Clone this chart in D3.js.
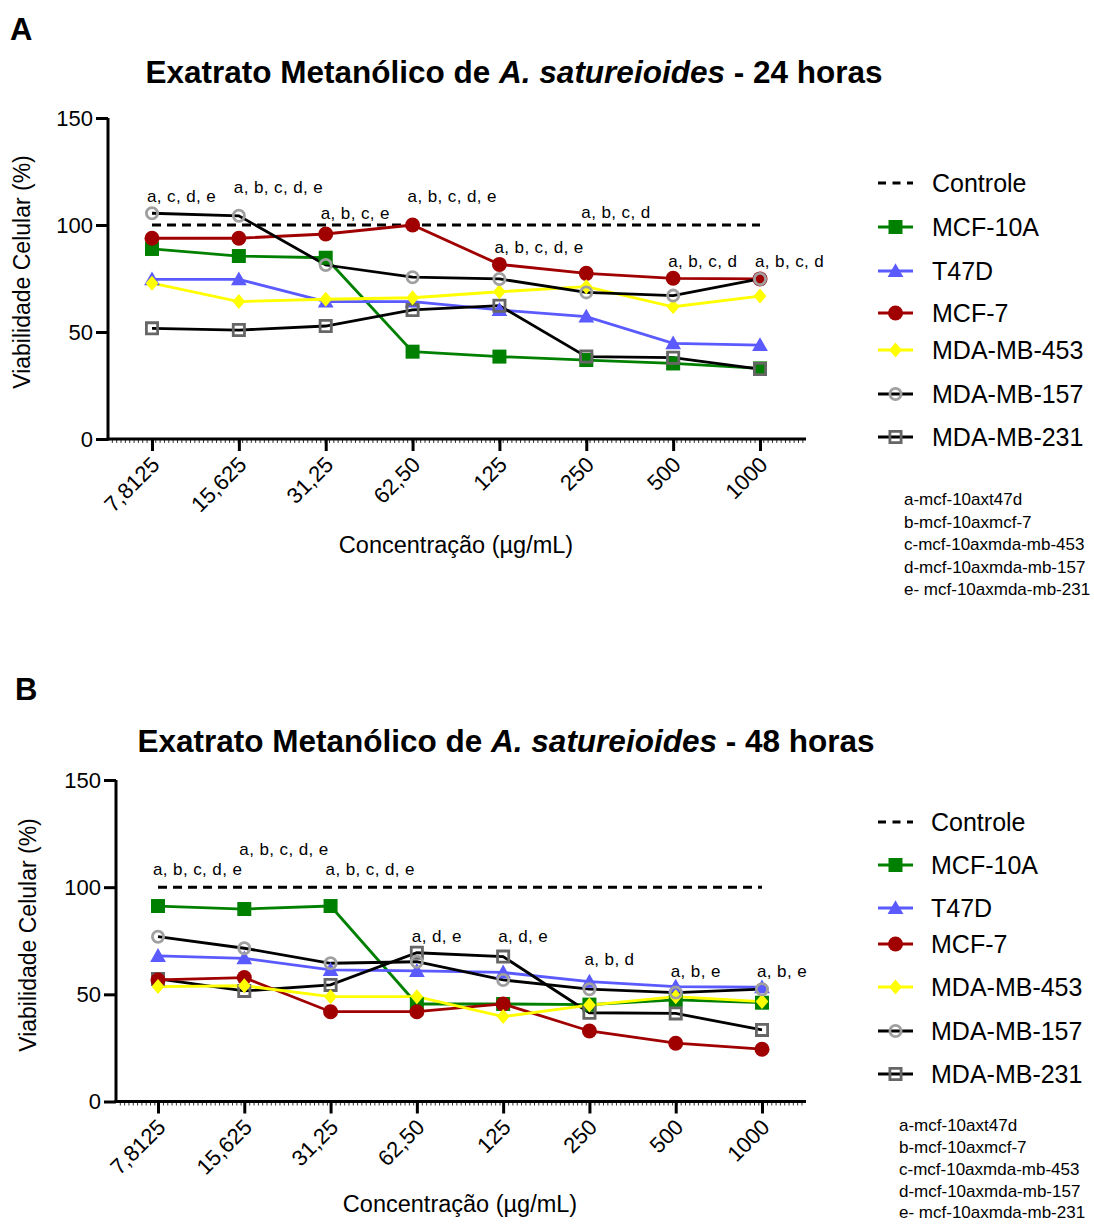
<!DOCTYPE html>
<html><head><meta charset="utf-8">
<script src="https://cdn.jsdelivr.net/npm/d3@7"></script>
<style>
body{margin:0;background:#fff}
svg{display:block}
text{font-family:"Liberation Sans",Arial,Helvetica,sans-serif;fill:#000}
</style>
</head><body>
<svg id="chart" width="1094" height="1224"></svg>
<script>
// ---------- DATA ----------
const concentrations = ["7,8125","15,625","31,25","62,50","125","250","500","1000"];
const yTicks = [0, 50, 100, 150];
const controlValue = 100;
const seriesNames = ["MCF-10A","T47D","MCF-7","MDA-MB-453","MDA-MB-157","MDA-MB-231"];

// 24 horas
const mcf10a_24 = [88.8, 85.5, 84.7, 40.8, 38.5, 36.9, 35.3, 33.0];
const t47d_24   = [74.6, 74.6, 64.2, 64.2, 60.3, 57.2, 44.7, 43.9];
const mcf7_24   = [93.8, 93.8, 95.8, 100.0, 81.6, 77.4, 75.1, 74.8];
const mda453_24 = [72.8, 64.2, 65.3, 66.0, 68.8, 71.2, 61.8, 66.8];
const mda157_24 = [105.5, 104.3, 81.3, 75.6, 74.8, 68.5, 67.0, 74.8];
const mda231_24 = [51.7, 50.9, 52.8, 60.3, 62.3, 38.5, 38.0, 32.7];
const annot_24 = ["a, c, d, e","a, b, c, d, e","a, b, c, e","a, b, c, d, e","a, b, c, d, e","a, b, c, d","a, b, c, d","a, b, c, d"];
const annotLevel_24 = [110.7, 115.0, 102.8, 110.7, 86.9, 103.3, 80.4, 80.4];

// 48 horas
const mcf10a_48 = [91.2, 89.8, 91.2, 45.5, 45.5, 45.2, 47.4, 46.1];
const t47d_48   = [67.9, 66.8, 61.4, 60.9, 60.2, 55.9, 53.6, 53.3];
const mcf7_48   = [56.7, 57.8, 41.9, 41.9, 45.5, 32.9, 27.2, 24.4];
const mda453_48 = [53.6, 54.0, 48.9, 48.9, 39.6, 45.0, 48.9, 46.6];
const mda157_48 = [76.9, 71.5, 64.5, 65.2, 56.7, 52.4, 50.8, 52.4];
const mda231_48 = [57.2, 51.6, 54.4, 69.4, 67.6, 41.4, 41.1, 33.4];
const annot_48 = ["a, b, c, d, e","a, b, c, d, e","a, b, c, d, e","a, d, e","a, d, e","a, b, d","a, b, e","a, b, e"];
const annotLevel_48 = [105.7, 115.0, 105.7, 74.4, 74.4, 63.7, 58.1, 58.1];

const comparisonKey = ["a-mcf-10axt47d","b-mcf-10axmcf-7","c-mcf-10axmda-mb-453","d-mcf-10axmda-mb-157","e- mcf-10axmda-mb-231"];

// ---------- STYLES ----------
const styles = {
  "MCF-10A":    {line:"#008000", marker:"square",  fill:"#008000", stroke:"none",    size:14},
  "T47D":       {line:"#5a5aff", marker:"triangle",fill:"#5a5aff", stroke:"none",    size:15},
  "MCF-7":      {line:"#a00000", marker:"circle",  fill:"#a00000", stroke:"none",    size:15},
  "MDA-MB-453": {line:"#ffff00", marker:"diamond", fill:"#ffff00", stroke:"none",    size:15},
  "MDA-MB-157": {line:"#000000", marker:"circle",  fill:"none",    stroke:"#a0a0a0", size:14},
  "MDA-MB-231": {line:"#000000", marker:"square",  fill:"none",    stroke:"#666666", size:14}
};
const drawOrder = ["MCF-10A","T47D","MDA-MB-231","MCF-7","MDA-MB-453","MDA-MB-157"];

const svg = d3.select("#chart");

function markerPath(type, s){
  const h = s/2;
  if(type==="square") return `M${-h},${-h}H${h}V${h}H${-h}Z`;
  if(type==="triangle") return `M0,${-h*1.05}L${h*1.05},${h*0.8}L${-h*1.05},${h*0.8}Z`;
  if(type==="diamond") return `M0,${-h}L${h*0.85},0L0,${h}L${-h*0.85},0Z`;
  if(type==="circle") return d3.arc()({innerRadius:0,outerRadius:h,startAngle:0,endAngle:2*Math.PI});
}

function drawMarker(g, name, x, y){
  const st = styles[name];
  const sz = st.stroke==="none" ? st.size : st.size-2.8;
  g.append("path")
    .attr("d", markerPath(st.marker, sz))
    .attr("transform", `translate(${x},${y})`)
    .attr("fill", st.fill)
    .attr("stroke", st.stroke)
    .attr("stroke-width", st.stroke==="none"?0:2.8);
}

function drawPanel(cfg){
  const g = svg.append("g");
  const x = d3.scalePoint().domain(concentrations).range([cfg.x0, cfg.x1]);
  const y = d3.scaleLinear().domain([0,150]).range([cfg.yBottom, cfg.yTop]);

  // panel letter
  g.append("text").attr("x", cfg.letterX).attr("y", cfg.letterY)
    .attr("font-size", 31).attr("font-weight","bold").text(cfg.letter);

  // title
  const t = g.append("text").attr("x", cfg.titleX).attr("y", cfg.titleY)
    .attr("text-anchor","middle").attr("font-size",31.5).attr("font-weight","bold");
  t.append("tspan").text("Exatrato Metanólico de ");
  t.append("tspan").attr("font-style","italic").text("A. satureioides");
  t.append("tspan").text(" - " + cfg.hours + " horas");

  // y axis
  const yAxis = d3.axisLeft(y).tickValues(yTicks).tickSize(12).tickPadding(3).tickFormat(d3.format("d"));
  const ya = g.append("g").attr("transform",`translate(${cfg.axisX},0)`).call(yAxis);
  ya.select(".domain").attr("stroke-width",3).attr("d",`M0,${cfg.yTop}V${cfg.yBottom+1.5}`);
  ya.selectAll(".tick line").attr("stroke-width",3);
  ya.selectAll(".tick text").attr("font-size",22).attr("font-family",'"Liberation Sans",Arial,sans-serif');

  // x axis
  const xAxis = d3.axisBottom(x).tickSize(12).tickFormat("");
  const xa = g.append("g").attr("transform",`translate(0,${cfg.yBottom})`).call(xAxis);
  xa.select(".domain").attr("stroke-width",3).attr("d",`M${cfg.axisX-1.5},0H${cfg.xEnd}`);
  xa.selectAll(".tick line").attr("stroke-width",3);
  // minor ticks
  const step = x.step()/20;
  const minor = d3.range(cfg.axisX + step, cfg.xEnd, step);
  xa.selectAll(".minor").data(minor).join("line").attr("class","minor")
    .attr("x1",d=>d).attr("x2",d=>d).attr("y1",0).attr("y2",4)
    .attr("stroke","#000").attr("stroke-width",0.8);
  // rotated tick labels
  g.selectAll(".xlab"+cfg.letter).data(concentrations).join("text")
    .attr("class","xlab"+cfg.letter)
    .attr("transform", d=>`translate(${x(d)+9},${cfg.yBottom+27}) rotate(-45)`)
    .attr("text-anchor","end").attr("font-size",22).text(d=>d);

  // axis titles
  g.append("text").attr("transform",`translate(${cfg.yLabelX},${cfg.yLabelY}) rotate(-90)`)
    .attr("text-anchor","middle").attr("font-size",23).text("Viabilidade Celular (%)");
  g.append("text").attr("x",cfg.xLabelX).attr("y",cfg.xLabelY)
    .attr("text-anchor","middle").attr("font-size",23.5).text("Concentração (µg/mL)");

  // control dashed line
  g.append("line").attr("x1",x(concentrations[0])).attr("x2",x(concentrations[concentrations.length-1]))
    .attr("y1",y(controlValue)).attr("y2",y(controlValue))
    .attr("stroke","#000").attr("stroke-width",3).attr("stroke-dasharray","9,6");

  // series lines
  const line = d3.line().x((d,i)=>x(concentrations[i])).y(d=>y(d));
  drawOrder.forEach(name=>{
    g.append("path").datum(cfg.data[name]).attr("d",line)
      .attr("fill","none").attr("stroke",styles[name].line).attr("stroke-width",2.8);
  });
  drawOrder.forEach(name=>{
    cfg.data[name].forEach((v,i)=>drawMarker(g,name,x(concentrations[i]),y(v)));
  });

  // annotations
  cfg.annot.forEach((txt,i)=>{
    g.append("text").attr("x",x(concentrations[i])-5).attr("y",y(cfg.annotLevel[i]))
      .attr("font-size",17).attr("letter-spacing",0.4).text(txt);
  });

  // legend
  const legNames = ["Controle"].concat(seriesNames);
  legNames.forEach((name,i)=>{
    const ly = cfg.legendY[i];
    if(name==="Controle"){
      g.append("line").attr("x1",878).attr("x2",913).attr("y1",ly).attr("y2",ly)
        .attr("stroke","#000").attr("stroke-width",3).attr("stroke-dasharray","8,6.5");
    } else {
      g.append("line").attr("x1",878).attr("x2",913).attr("y1",ly).attr("y2",ly)
        .attr("stroke",styles[name].line).attr("stroke-width",3);
      drawMarker(g,name,895.5,ly);
    }
    g.append("text").attr("x",cfg.legendTextX).attr("y",ly).attr("dy","0.36em")
      .attr("font-size",25).text(name);
  });

  // comparison key
  comparisonKey.forEach((k,i)=>{
    g.append("text").attr("x",cfg.keyX).attr("y",cfg.keyY + i*cfg.keyStep).attr("dy","0.36em")
      .attr("font-size",17).text(k);
  });
}

drawPanel({
  letter:"A", letterX:10, letterY:40, hours:"24", titleX:514, titleY:83,
  x0:152, x1:760, axisX:108, xEnd:806, yTop:118, yBottom:439,
  yLabelX:30, yLabelY:272, xLabelX:456, xLabelY:553,
  data:{"MCF-10A":mcf10a_24,"T47D":t47d_24,"MCF-7":mcf7_24,"MDA-MB-453":mda453_24,"MDA-MB-157":mda157_24,"MDA-MB-231":mda231_24},
  annot:annot_24, annotLevel:annotLevel_24,
  legendY:[183,227,271,313,350,394,437], legendTextX:932,
  keyX:904, keyY:499, keyStep:22.5
});
drawPanel({
  letter:"B", letterX:15, letterY:700, hours:"48", titleX:506, titleY:752,
  x0:158, x1:762, axisX:116, xEnd:806, yTop:780, yBottom:1101.5,
  yLabelX:36, yLabelY:935, xLabelX:460, xLabelY:1212,
  data:{"MCF-10A":mcf10a_48,"T47D":t47d_48,"MCF-7":mcf7_48,"MDA-MB-453":mda453_48,"MDA-MB-157":mda157_48,"MDA-MB-231":mda231_48},
  annot:annot_48, annotLevel:annotLevel_48,
  legendY:[822,865,908,944,987,1031,1074], legendTextX:931,
  keyX:899, keyY:1125, keyStep:21.8
});
</script>
</body></html>
